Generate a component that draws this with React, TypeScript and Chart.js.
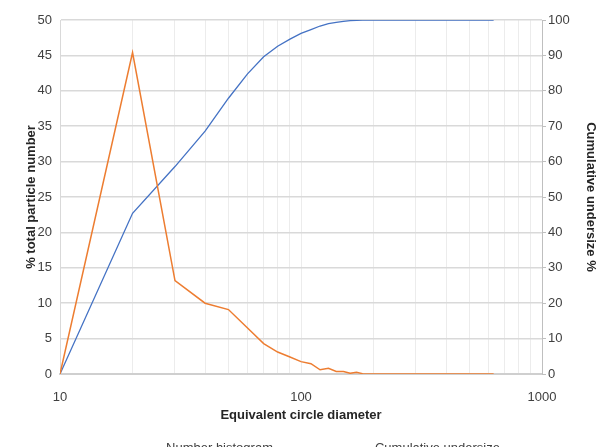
import { useEffect, useRef } from 'react';
import { Chart, registerables } from 'chart.js';

Chart.register(...registerables);

const diameters = [10, 20, 30, 40, 50, 60, 70, 80, 90, 100, 110, 120, 130, 140, 150, 160, 170, 180, 190, 200, 300, 400, 500, 630];
const numberHistogram = [0, 45.4, 13.2, 10.0, 9.1, 6.5, 4.3, 3.1, 2.4, 1.75, 1.45, 0.6, 0.8, 0.35, 0.35, 0.1, 0.25, 0.05, 0, 0, 0, 0, 0, 0];
const cumulativeUndersize = [0, 45.4, 58.6, 68.6, 77.9, 84.8, 89.6, 92.6, 94.6, 96.2, 97.3, 98.3, 99.0, 99.3, 99.6, 99.8, 99.9, 100, 100, 100, 100, 100, 100, 100];
const xGridValues = [10, 20, 30, 40, 50, 60, 70, 80, 90, 100, 200, 300, 400, 500, 600, 700, 800, 900, 1000];
const xLabelValues = [10, 100, 1000];

const FONT = '"Liberation Sans", Arial, sans-serif';

const bottomLegend = {
  id: 'bottomLegend',
  afterDraw(chart: any) {
    const ctx = chart.ctx;
    ctx.save();
    ctx.font = `13px ${FONT}`;
    const items = chart.data.datasets.map((ds: any) => ({ label: ds.label, color: ds.legendColor || ds.borderColor }));
    const lineW = 57;
    const gap = 4;
    const spacing = 41;
    const widths = items.map((it: any) => lineW + gap + ctx.measureText(it.label).width);
    const total = widths.reduce((a: number, b: number) => a + b, 0) + spacing * (items.length - 1);
    let x = (chart.width - total) / 2 + 3;
    const y = 448;
    items.forEach((it: any, i: number) => {
      ctx.strokeStyle = it.color;
      ctx.lineWidth = 2;
      ctx.beginPath();
      ctx.moveTo(x, y);
      ctx.lineTo(x + lineW, y);
      ctx.stroke();
      ctx.fillStyle = '#404040';
      ctx.textBaseline = 'middle';
      ctx.textAlign = 'left';
      ctx.fillText(it.label, x + lineW + gap, y);
      x += widths[i] + spacing;
    });
    ctx.restore();
  },
};

export default function App() {
  const canvasRef = useRef<HTMLCanvasElement | null>(null);

  useEffect(() => {
    if (!canvasRef.current) return;
    Chart.defaults.font.family = FONT;
    const chart = new Chart(canvasRef.current, {
      type: 'line',
      data: {
        datasets: [
          {
            label: 'Number histogram',
            data: diameters.map((d, i) => ({ x: d, y: numberHistogram[i] })),
            borderColor: '#ED7D31',
            legendColor: '#F2964F',
            borderWidth: 1.5,
            pointRadius: 0,
            tension: 0,
            yAxisID: 'y',
          } as any,
          {
            label: 'Cumulative undersize',
            data: diameters.map((d, i) => ({ x: d, y: cumulativeUndersize[i] })),
            borderColor: '#4472C4',
            legendColor: '#1F74C7',
            borderWidth: 1.3,
            pointRadius: 0,
            tension: 0,
            yAxisID: 'y2',
          } as any,
        ],
      },
      options: {
        responsive: false,
        animation: false,
        layout: { padding: { top: 20, left: 0, right: 0, bottom: 0 } },
        plugins: {
          legend: { display: false },
          tooltip: { enabled: false },
        },
        scales: {
          x: {
            type: 'logarithmic',
            min: 10,
            max: 1000,
            afterBuildTicks: (scale: any) => {
              scale.ticks = xGridValues.map((v) => ({ value: v }));
            },
            afterFit: (scale: any) => {
              scale.height = 73;
            },
            ticks: {
              autoSkip: false,
              maxRotation: 0,
              padding: 16,
              color: '#404040',
              font: { size: 13 },
              callback: (v: any) => (xLabelValues.includes(Number(v)) ? String(v) : ''),
            },
            grid: { color: '#ececec', lineWidth: 1, drawTicks: false },
            border: { color: '#cfcfcf', width: 2 },
            title: {
              display: true,
              text: 'Equivalent circle diameter',
              color: '#262626',
              font: { size: 13, weight: 'bold' },
              padding: { top: 0, bottom: 24 },
            },
          },
          y: {
            position: 'left',
            min: 0,
            max: 50,
            afterFit: (scale: any) => {
              scale.width = 60;
            },
            ticks: { stepSize: 5, padding: 8, color: '#404040', font: { size: 13 } },
            grid: { color: '#d9d9d9', lineWidth: 1.5, drawTicks: false },
            border: { color: '#d9d9d9' },
            title: {
              display: true,
              text: '% total particle number',
              color: '#262626',
              font: { size: 13, weight: 'bold' },
              padding: { top: 24, bottom: 0 },
            },
          },
          y2: {
            position: 'right',
            min: 0,
            max: 100,
            afterFit: (scale: any) => {
              scale.width = 57;
            },
            ticks: { stepSize: 10, padding: 2, color: '#404040', font: { size: 13 } },
            grid: { drawOnChartArea: false, drawTicks: true, tickLength: 4, color: '#bfbfbf' },
            border: { color: '#bfbfbf' },
            title: {
              display: true,
              text: 'Cumulative undersize %',
              color: '#262626',
              font: { size: 13, weight: 'bold' },
              padding: { top: 1, bottom: 0 },
            },
          },
        },
      } as any,
      plugins: [bottomLegend],
    });
    return () => chart.destroy();
  }, []);

  return (
    <div style={{ position: 'fixed', left: 0, top: 0, width: 599, height: 447, background: '#fff', overflow: 'hidden' }}>
      <canvas ref={canvasRef} width={599} height={447} style={{ display: 'block' }} />
    </div>
  );
}
